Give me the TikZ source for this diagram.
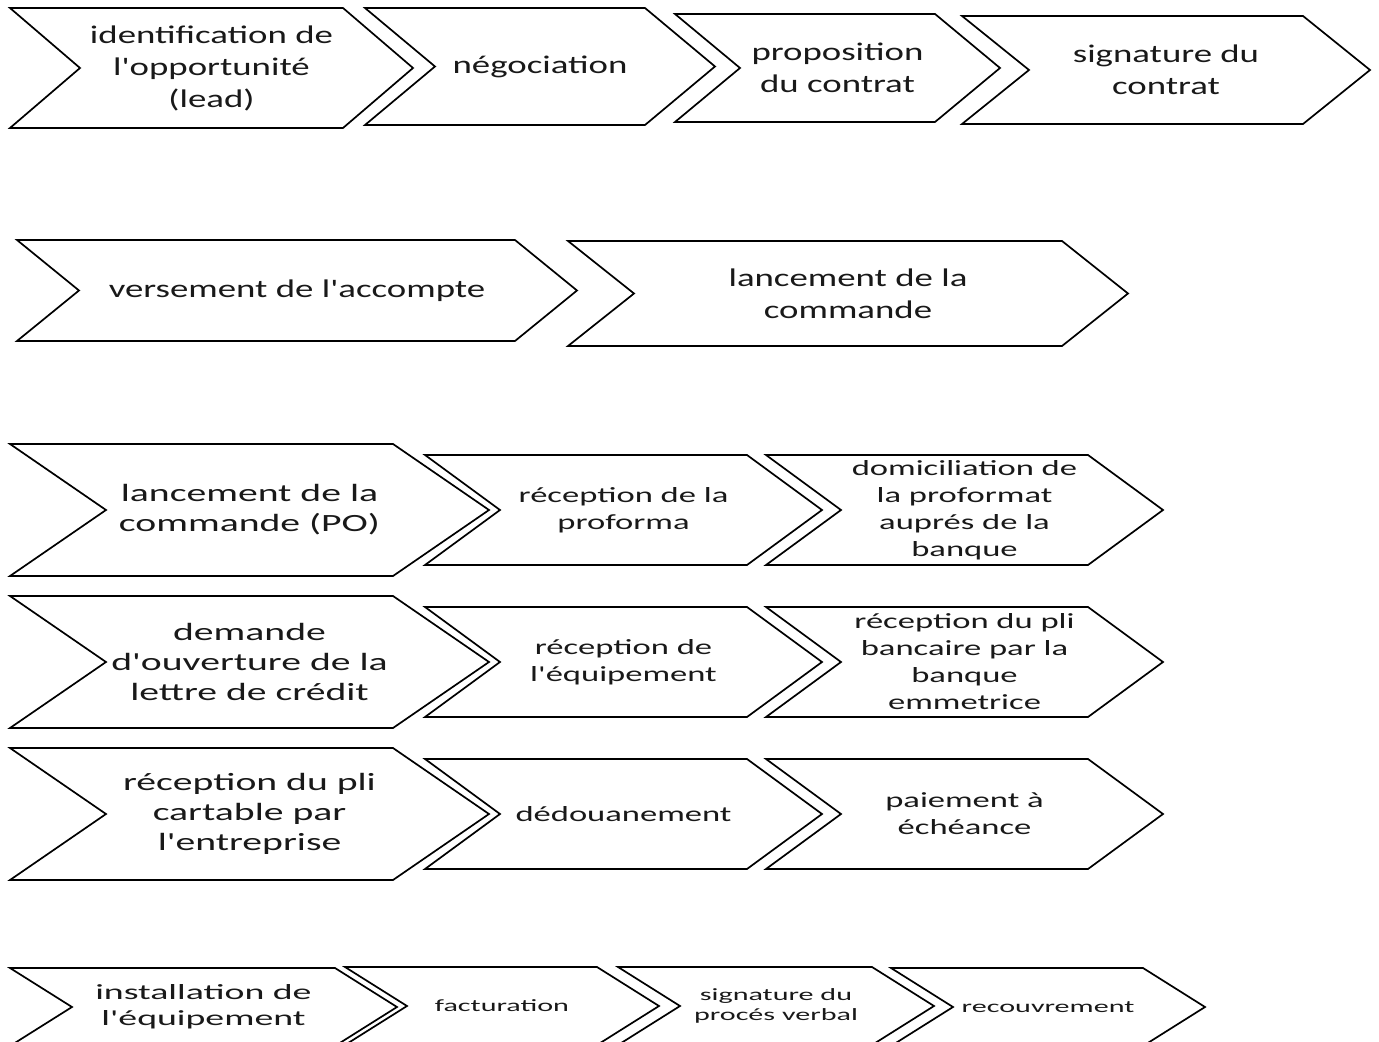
\documentclass[tikz,border=0pt]{standalone}
\usepackage{fontspec}
\setmainfont{Carlito}
\newfontfamily\topfont{Carlito}[FakeStretch=1.45]
\newfontfamily\midfont{Carlito}[FakeStretch=1.6]
\newfontfamily\lowfont{Carlito}[FakeStretch=1.75]
\usepackage{tikz}
\usetikzlibrary{positioning}

% chevron: name, left x, top y, body width, height, point depth, text style, text
\newcommand{\chevron}[8]{%
  \draw[chevline] (#2,#3) -- ++(#4,0) -- ++(#6,#5/2) -- ++(-#6,#5/2) -- ++(-#4,0) -- ++(#6,-#5/2) -- cycle;
  \node[#7] (#1) at ({#2+(#4+#6)/2},{#3+#5/2}) {#8};
}

\begin{document}
\begin{tikzpicture}[
        x=0.5pt, y=-0.5pt,
        chevline/.style={draw=black, line width=0.85pt, fill=white, line join=miter},
        toptext/.style={align=center, inner sep=0pt, text=black!90, font=\topfont\fontsize{12.7}{16}\selectfont},
        bigtext/.style={align=center, inner sep=0pt, text=black!90, font=\midfont\fontsize{12.4}{15}\selectfont},
        smalltext/.style={align=center, inner sep=0pt, text=black!90, font=\midfont\fontsize{10.8}{13.5}\selectfont},
        lowtext/.style={align=center, inner sep=0pt, text=black!90, font=\lowfont\fontsize{10.8}{13}\selectfont},
        tinytext/.style={align=center, inner sep=0pt, text=black!90, font=\lowfont\fontsize{8.6}{10}\selectfont}
    ]
        \clip (0,0) rectangle (1379,1042);

        % Row 1
        \chevron{lead}{10}{8}{333}{120}{70}{toptext}{identification de\\l'opportunité\\(lead)}
        \chevron{nego}{365}{8}{280}{117}{70}{toptext}{négociation}
        \chevron{propos}{675}{14}{260}{108}{65}{toptext}{proposition\\du contrat}
        \chevron{signc}{962}{16}{341}{108}{67}{toptext}{signature du\\contrat}

        % Row 2
        \chevron{accompte}{17}{240}{498}{101}{62}{toptext}{versement de l'accompte}
        \chevron{lancmt}{568}{241}{494}{105}{66}{toptext}{lancement de la\\commande}

        % Row 3
        \chevron{po}{10}{444}{383}{132}{96}{bigtext}{lancement de la\\commande (PO)}
        \chevron{proforma}{425}{455}{322}{110}{75}{smalltext}{réception de la\\proforma}
        \chevron{domicil}{766}{455}{322}{110}{75}{smalltext}{domiciliation de\\la proformat\\auprés de la\\banque}

        % Row 4
        \chevron{credit}{10}{596}{383}{132}{96}{bigtext}{demande\\d'ouverture de la\\lettre de crédit}
        \chevron{equip}{425}{607}{322}{110}{75}{smalltext}{réception de\\l'équipement}
        \chevron{plibanc}{766}{607}{322}{110}{75}{smalltext}{réception du pli\\bancaire par la\\banque\\emmetrice}

        % Row 5
        \chevron{plicart}{10}{748}{383}{132}{96}{bigtext}{réception du pli\\cartable par\\l'entreprise}
        \chevron{douane}{425}{759}{322}{110}{75}{smalltext}{dédouanement}
        \chevron{paiement}{766}{759}{322}{110}{75}{smalltext}{paiement à\\échéance}

        % Row 6
        \chevron{install}{10}{968}{325}{78}{62}{lowtext}{installation de\\l'équipement}
        \chevron{factur}{345}{967}{252}{78}{62}{tinytext}{facturation}
        \chevron{pv}{618}{967}{254}{78}{62}{tinytext}{signature du\\procés verbal}
        \chevron{recouv}{891}{968}{252}{78}{62}{tinytext}{recouvrement}
\end{tikzpicture}
\end{document}
